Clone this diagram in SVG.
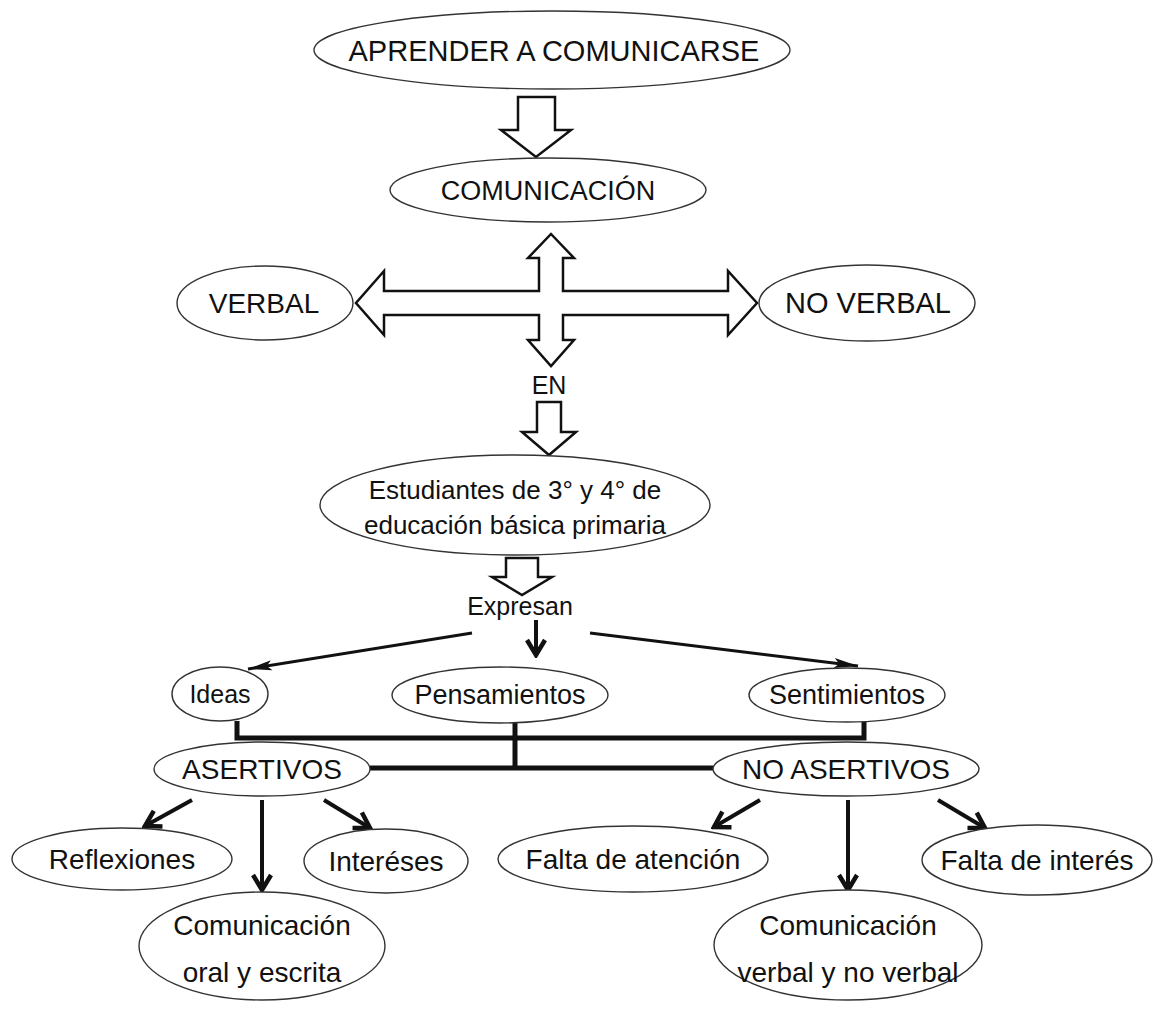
<svg xmlns="http://www.w3.org/2000/svg" width="1154" height="1012" viewBox="0 0 1154 1012">
<defs>
<style>
.n ellipse{fill:#fff;stroke:#333;stroke-width:1.4}
text{font-family:"Liberation Sans",Arial,sans-serif;fill:#111;text-anchor:middle}
.blk{fill:#fff;stroke:#111;stroke-width:2.5;stroke-linejoin:miter}
.bar{fill:none;stroke:#111;stroke-width:5}
.sa{fill:none;stroke:#111;stroke-width:4;marker-end:url(#chev)}
.ta{fill:none;stroke:#111;stroke-width:3;marker-end:url(#tri)}
</style>
<marker id="chev" markerUnits="userSpaceOnUse" viewBox="0 0 24 24" refX="21" refY="12" markerWidth="24" markerHeight="24" orient="auto">
<path d="M6,3 L21,12 L6,21" fill="none" stroke="#111" stroke-width="4.5"/>
</marker>
<marker id="tri" markerUnits="userSpaceOnUse" viewBox="0 0 24 12" refX="24" refY="6" markerWidth="24" markerHeight="12" orient="auto">
<path d="M0,1 L24,6 L0,11 L5,6 Z" fill="#111"/>
</marker>
</defs>
<rect width="1154" height="1012" fill="#fff"/>

<g id="connectors">
<path class="blk" d="M518,97 L555,97 L555,130 L571,130 L536,157 L501,130 L518,130 Z"/>
<path class="blk" d="M551,234 L574,258 L563,258 L563,291 L728,291 L728,271 L757,303 L728,335 L728,315 L563,315 L563,340 L574,340 L551,366 L528,340 L539,340 L539,315 L384,315 L384,335 L356,303 L384,271 L384,291 L539,291 L539,258 L528,258 Z"/>
<path class="blk" d="M537,402 L561,402 L561,432 L576,432 L549,455 L522,432 L537,432 Z"/>
<path class="blk" d="M506,558 L538,558 L538,577 L552,577 L522,595 L492,577 L506,577 Z"/>
<line class="sa" x1="536" y1="620" x2="536" y2="655"/>
<line class="ta" x1="472" y1="633" x2="248" y2="669"/>
<line class="ta" x1="590" y1="633" x2="858" y2="666"/>
<polyline class="bar" points="237,721 237,738 864,738 864,721"/>
<line class="bar" x1="515" y1="722" x2="515" y2="768"/>
<line class="bar" x1="370" y1="768" x2="713" y2="768"/>
<line class="sa" x1="192" y1="800" x2="145" y2="826"/>
<line class="sa" x1="262" y1="800" x2="262" y2="890"/>
<line class="sa" x1="324" y1="800" x2="370" y2="828"/>
<line class="sa" x1="760" y1="800" x2="714" y2="827"/>
<line class="sa" x1="848" y1="800" x2="848" y2="890"/>
<line class="sa" x1="938" y1="800" x2="985" y2="828"/>
</g>

<g id="n-aprender" class="n"><ellipse cx="552" cy="50" rx="238" ry="39"/><text x="554" y="61" font-size="29">APRENDER A COMUNICARSE</text></g>
<g id="n-comunicacion" class="n"><ellipse cx="548" cy="190" rx="158" ry="32"/><text x="548" y="200" font-size="27">COMUNICACIÓN</text></g>
<g id="n-verbal" class="n"><ellipse cx="265" cy="303" rx="88" ry="37"/><text x="264" y="313" font-size="28">VERBAL</text></g>
<g id="n-noverbal" class="n"><ellipse cx="867" cy="303" rx="108" ry="38"/><text x="868" y="313" font-size="29">NO VERBAL</text></g>
<g id="l-en"><text x="549" y="394" font-size="25">EN</text></g>
<g id="n-estudiantes" class="n"><ellipse cx="515" cy="505" rx="195" ry="50"/><text x="515" y="499" font-size="26">Estudiantes de 3° y 4° de</text><text x="515" y="534" font-size="26">educación básica primaria</text></g>
<g id="l-expresan"><text x="520" y="615" font-size="25">Expresan</text></g>
<g id="n-ideas" class="n"><ellipse cx="220" cy="694" rx="48" ry="27"/><text x="220" y="703" font-size="25">Ideas</text></g>
<g id="n-pensamientos" class="n"><ellipse cx="500" cy="695" rx="108" ry="28"/><text x="500" y="704" font-size="27">Pensamientos</text></g>
<g id="n-sentimientos" class="n"><ellipse cx="847" cy="695" rx="98" ry="27"/><text x="847" y="704" font-size="27">Sentimientos</text></g>
<g id="n-asertivos" class="n"><ellipse cx="262" cy="769" rx="108" ry="27"/><text x="262" y="779" font-size="28">ASERTIVOS</text></g>
<g id="n-noasertivos" class="n"><ellipse cx="846" cy="769" rx="133" ry="27"/><text x="846" y="779" font-size="28">NO ASERTIVOS</text></g>
<g id="n-reflexiones" class="n"><ellipse cx="122" cy="859" rx="110" ry="31"/><text x="122" y="869" font-size="28">Reflexiones</text></g>
<g id="n-intereses" class="n"><ellipse cx="386" cy="861" rx="82" ry="32"/><text x="386" y="871" font-size="28">Interéses</text></g>
<g id="n-falta-atencion" class="n"><ellipse cx="633" cy="859" rx="135" ry="33"/><text x="633" y="869" font-size="28">Falta de atención</text></g>
<g id="n-falta-interes" class="n"><ellipse cx="1037" cy="860" rx="115" ry="35"/><text x="1037" y="870" font-size="28">Falta de interés</text></g>
<g id="n-com-oral" class="n"><ellipse cx="262" cy="946" rx="123" ry="54"/><text x="262" y="935" font-size="28">Comunicación</text><text x="262" y="982" font-size="28">oral y escrita</text></g>
<g id="n-com-verbal" class="n"><ellipse cx="848" cy="945" rx="134" ry="55"/><text x="848" y="935" font-size="28">Comunicación</text><text x="848" y="982" font-size="28">verbal y no verbal</text></g>
</svg>
